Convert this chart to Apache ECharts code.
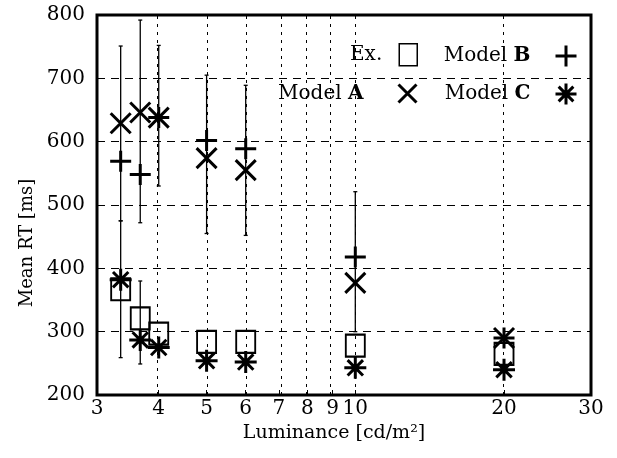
<!DOCTYPE html>
<html><head><meta charset="utf-8">
<script src="https://cdn.jsdelivr.net/npm/echarts@6/dist/echarts.min.js"></script>
<style>html,body{margin:0;padding:0;background:#fff}#c{width:617px;height:458px}</style>
</head><body><div id="c"></div>
<script>
// Luminance values (cd/m^2) of the measured conditions
const luminance = [3.35, 3.67, 4, 5, 6, 10, 20];
// Mean RT [ms]
const exRT     = [367, 321, 297, 284, 284, 278, 265];
const modelA   = [629, 646, 638, 574, 555, 377, 290];
const modelB   = [569, 548, 638, 602, 589, 418, 290];
const modelC   = [382, 287, 275, 254, 252, 243, 240];
// Error bars
const errX    = [3.35, 3.35, 3.67, 3.67, 4, 5, 6, 10];
const errLow  = [259, 475, 249, 472, 530, 455, 452, 300];
const errHigh = [475, 751, 380, 792, 752, 705, 689, 521];
// Tick labels
const xTicks = [3, 4, 5, 6, 7, 8, 9, 10, 20, 30];
const xGrid  = [4, 5, 6, 7, 8, 9, 10, 20];

const FONT = 'DejaVu Serif';
const lg = Math.log10;
const pts = (ys) => luminance.map((x, i) => [lg(x), ys[i]]);

const symX = 'path://M0,0L20,20M20,0L0,20';
const symPlus = 'path://M10,0L10,20M0,10L20,10';
const symStar = 'path://M10,0L10,20M0,10L20,10M3,3L17,17M17,3L3,17';

const strokeStyle = {color: 'rgba(0,0,0,0)', borderColor: '#000', borderWidth: 3, opacity: 1};
const rich = {b: {fontFamily: FONT, fontWeight: 'bold', fontSize: 20, color: '#000'}};
const fmt = n => n.replace(/ ([A-Z])$/, ' {b|$1}');

function legendItem(name, right, top, w, h, pad, style) {
  return {
    data: [name], right: right, top: top, align: 'right', orient: 'horizontal',
    itemWidth: w, itemHeight: h, selectedMode: false, padding: 0,
    formatter: fmt,
    itemStyle: style,
    textStyle: {fontFamily: FONT, fontSize: 20, color: '#000', rich: rich, padding: [0, pad, 0, 0]}
  };
}

const chart = echarts.init(document.getElementById('c'));
chart.setOption({
  animation: false,
  backgroundColor: '#fff',
  grid: {left: 97, right: 26, top: 15, bottom: 63, show: true, borderColor: '#000', borderWidth: 3, backgroundColor: 'transparent'},
  legend: [
    legendItem('Ex.', 199, 43, 18, 22, 12, {color: 'rgba(0,0,0,0)', borderColor: '#000', borderWidth: 1.5, opacity: 1}),
    legendItem('Model B', 39, 44, 21, 21, 20, strokeStyle),
    legendItem('Model A', 199, 83, 18, 19, 30, strokeStyle),
    legendItem('Model C', 39, 82, 21, 21, 20, strokeStyle)
  ],
  xAxis: {
    type: 'value', min: lg(3), max: lg(30),
    name: 'Luminance [cd/m²]', nameLocation: 'middle', nameGap: 22,
    nameTextStyle: {fontFamily: FONT, fontSize: 19, color: '#000', padding: [0, 20, 0, 0]},
    axisLine: {show: false},
    axisTick: {show: true, inside: true, length: 5, customValues: xTicks.map(lg), lineStyle: {color: '#000'}},
    axisLabel: {customValues: xTicks.map(lg), formatter: v => String(Math.round(Math.pow(10, v))),
      fontFamily: FONT, fontSize: 20, color: '#000', margin: 4},
    splitLine: {show: false}
  },
  yAxis: {
    type: 'value', min: 200, max: 800, interval: 100,
    name: 'Mean RT [ms]', nameLocation: 'middle', nameGap: 60,
    nameTextStyle: {fontFamily: FONT, fontSize: 18, color: '#000', padding: [0, 76, 0, 0]},
    axisLine: {show: false},
    axisTick: {show: true, inside: true, length: 5, lineStyle: {color: '#000'}},
    axisLabel: {fontFamily: FONT, fontSize: 20, color: '#000', margin: 12},
    splitLine: {show: true, lineStyle: {color: '#000', width: 1, type: [8, 6]}}
  },
  series: [
    {
      type: 'custom', name: 'err', silent: true,
      data: errX.map((x, i) => [lg(x), errLow[i], errHigh[i]]),
      encode: {x: 0, y: [1, 2]},
      renderItem: function (params, api) {
        const x = api.value(0), lo = api.value(1), hi = api.value(2);
        const p1 = api.coord([x, lo]), p2 = api.coord([x, hi]);
        const st = {stroke: '#000', lineWidth: 1.3};
        return {type: 'group', children: [
          {type: 'line', shape: {x1: p1[0], y1: p1[1], x2: p2[0], y2: p2[1]}, style: st},
          {type: 'line', shape: {x1: p1[0] - 2, y1: p1[1], x2: p1[0] + 2, y2: p1[1]}, style: st},
          {type: 'line', shape: {x1: p2[0] - 2, y1: p2[1], x2: p2[0] + 2, y2: p2[1]}, style: st}
        ]};
      },
      markLine: {
        silent: true, symbol: 'none', label: {show: false},
        lineStyle: {color: '#000', width: 1, type: [3, 5], opacity: 1},
        data: xGrid.map(v => ({xAxis: lg(v)}))
      },
      z: 2
    },
    {type: 'scatter', name: 'Ex.', data: pts(exRT), symbol: 'rect', symbolSize: [19, 22],
      itemStyle: {color: 'rgba(0,0,0,0)', borderColor: '#000', borderWidth: 2, opacity: 1}, z: 3},
    {type: 'scatter', name: 'Model A', data: pts(modelA), symbol: symX, symbolSize: [20, 20],
      itemStyle: strokeStyle, z: 4},
    {type: 'scatter', name: 'Model B', data: pts(modelB), symbol: symPlus, symbolSize: [21, 21],
      itemStyle: strokeStyle, z: 4},
    {type: 'scatter', name: 'Model C', data: pts(modelC), symbol: symStar, symbolSize: [22, 22],
      itemStyle: strokeStyle, z: 4}
  ]
});
</script>
</body></html>
